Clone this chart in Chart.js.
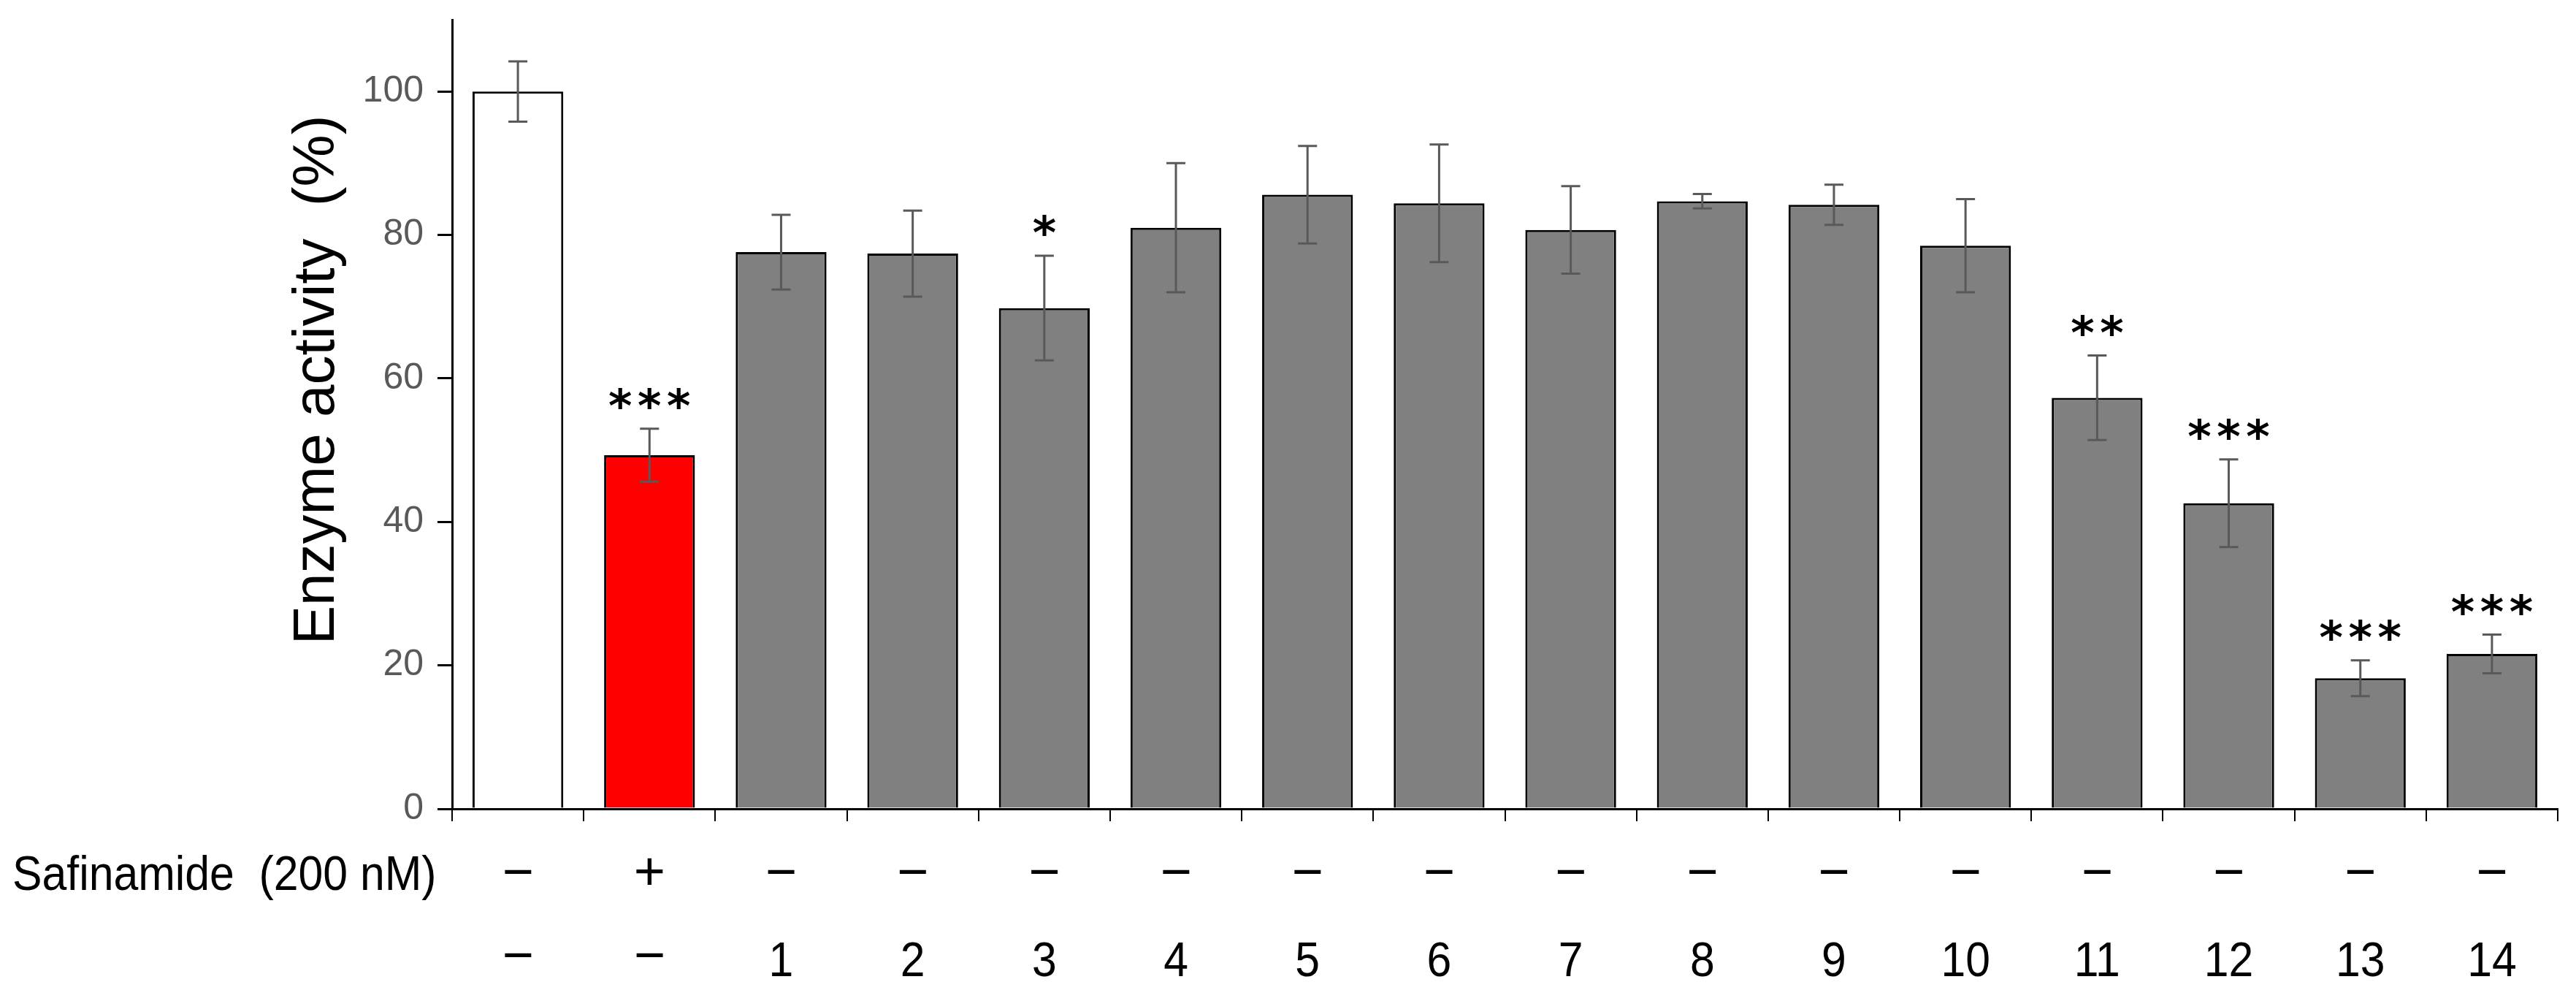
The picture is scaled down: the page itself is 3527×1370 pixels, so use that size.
<!DOCTYPE html>
<html>
<head>
<meta charset="utf-8">
<script src="https://cdn.jsdelivr.net/npm/chart.js@4.4.1/dist/chart.umd.min.js"></script>
<style>
  html, body { margin: 0; padding: 0; background: #ffffff; }
  #wrap { width: 3527px; height: 1370px; }
</style>
</head>
<body>
<div id="wrap"><canvas id="chart" width="3527" height="1370"></canvas></div>
<script>
// ── Data ──
const categories = ['ctrl', 'safinamide', '1', '2', '3', '4', '5', '6', '7', '8', '9', '10', '11', '12', '13', '14'];
const activity = [100, 49.3, 77.6, 77.4, 69.8, 81.0, 85.6, 84.4, 80.7, 84.7, 84.2, 78.5, 57.3, 42.6, 18.2, 21.6];
const errors = [4.2, 3.7, 5.2, 6.0, 7.3, 9.0, 6.8, 8.2, 6.1, 1.0, 2.8, 6.5, 5.9, 6.1, 2.5, 2.7];
const stars = ['', '***', '', '', '*', '', '', '', '', '', '', '', '**', '***', '***', '***'];
const safinamideRow = ['−', '+', '−', '−', '−', '−', '−', '−', '−', '−', '−', '−', '−', '−', '−', '−'];
const compoundRow = ['−', '−', '1', '2', '3', '4', '5', '6', '7', '8', '9', '10', '11', '12', '13', '14'];
const yTicks = [0, 20, 40, 60, 80, 100];

const barColors = categories.map((c, i) => i === 0 ? '#ffffff' : (i === 1 ? '#ff0000' : '#808080'));

// narrow-ish text helper (squeezes the glyphs horizontally)
function narrowText(ctx, text, x, y, align, sx) {
  ctx.save();
  ctx.translate(x, y);
  ctx.scale(sx, 1);
  ctx.textAlign = align;
  ctx.fillText(text, 0, 0);
  ctx.restore();
}

// ── Error bars, asterisks and the two label rows ──
const extrasPlugin = {
  id: 'extras',
  afterDatasetsDraw(chart) {
    const ctx = chart.ctx;
    const y = chart.scales.y;
    const meta = chart.getDatasetMeta(0);
    ctx.save();
    ctx.strokeStyle = '#595959';
    ctx.lineWidth = 3;
    meta.data.forEach((bar, i) => {
      const top = y.getPixelForValue(activity[i] + errors[i]);
      const bot = y.getPixelForValue(activity[i] - errors[i]);
      ctx.beginPath();
      ctx.moveTo(bar.x, top); ctx.lineTo(bar.x, bot);
      ctx.moveTo(bar.x - 13, top); ctx.lineTo(bar.x + 13, top);
      ctx.moveTo(bar.x - 13, bot); ctx.lineTo(bar.x + 13, bot);
      ctx.stroke();

      if (stars[i]) {
        ctx.fillStyle = '#000000';
        ctx.font = 'bold 62px "DejaVu Sans"';
        ctx.textAlign = 'center';
        ctx.textBaseline = 'middle';
        const n = stars[i].length;
        const pitch = 40;
        for (let k = 0; k < n; k++) {
          ctx.fillText('*', bar.x + (k - (n - 1) / 2) * pitch, top - 26);
        }
      }
    });
    ctx.restore();
  },
  afterDraw(chart) {
    const ctx = chart.ctx;
    const xs = chart.scales.x;
    ctx.save();
    // y title
    ctx.fillStyle = '#000000';
    ctx.font = '80px "Liberation Sans", Arial, sans-serif';
    ctx.textAlign = 'center';
    ctx.textBaseline = 'middle';
    ctx.translate(435, 520);
    ctx.rotate(-Math.PI / 2);
    ctx.fillText('Enzyme activity  (%)', 0, 0);
    ctx.restore();

    // category rows below the axis
    ctx.save();
    ctx.fillStyle = '#000000';
    ctx.textBaseline = 'middle';
    ctx.font = '66px "Liberation Sans", Arial, sans-serif';
    narrowText(ctx, 'Safinamide  (200 nM)', 17, 1200, 'left', 0.92);
    categories.forEach((c, i) => {
      const px = xs.getPixelForValue(i);
      const isNum = /\d/.test(compoundRow[i]);
      ctx.font = '74px "Liberation Sans", Arial, sans-serif';
      narrowText(ctx, safinamideRow[i], px, 1198, 'center', 1);
      if (!isNum) narrowText(ctx, compoundRow[i], px, 1312, 'center', 1);
      ctx.font = '66px "Liberation Sans", Arial, sans-serif';
      if (isNum) narrowText(ctx, compoundRow[i], px, 1318, 'center', 0.92);
    });
    ctx.restore();
  }
};

const ctx = document.getElementById('chart').getContext('2d');
new Chart(ctx, {
  type: 'bar',
  data: {
    labels: categories,
    datasets: [{
      data: activity,
      backgroundColor: barColors,
      borderColor: '#000000',
      borderWidth: 3,
      barPercentage: 0.69,
      categoryPercentage: 1.0
    }]
  },
  options: {
    responsive: false,
    animation: false,
    devicePixelRatio: 1,
    layout: { padding: { top: 27, right: 25, left: 0, bottom: 0 } },
    plugins: {
      legend: { display: false },
      tooltip: { enabled: false }
    },
    scales: {
      x: {
        afterFit(scale) {
          scale.height = 1370 - 1107;
          scale.paddingLeft = 0; scale.paddingRight = 0;
        },
        border: { display: true, color: '#000000', width: 3 },
        grid: {
          offset: true,
          drawOnChartArea: false,
          drawTicks: true,
          tickLength: 17,
          lineWidth: 2,
          color: (c) => c.index === categories.length ? 'rgba(0,0,0,0)' : '#000000'
        },
        ticks: { display: false }
      },
      y: {
        min: 0,
        max: 110,
        afterFit(scale) {
          scale.width = 619;
          scale.paddingTop = 0; scale.paddingBottom = 0;
        },
        afterBuildTicks(scale) { scale.ticks = yTicks.map(v => ({ value: v })); },
        border: { display: true, color: '#000000', width: 3 },
        grid: {
          drawOnChartArea: false,
          drawTicks: true,
          tickLength: 20,
          lineWidth: 3,
          color: '#000000'
        },
        ticks: {
          color: '#595959',
          padding: 19,
          font: { family: '"Liberation Sans", Arial, sans-serif', size: 50 }
        }
      }
    }
  },
  plugins: [extrasPlugin]
});
</script>
</body>
</html>
